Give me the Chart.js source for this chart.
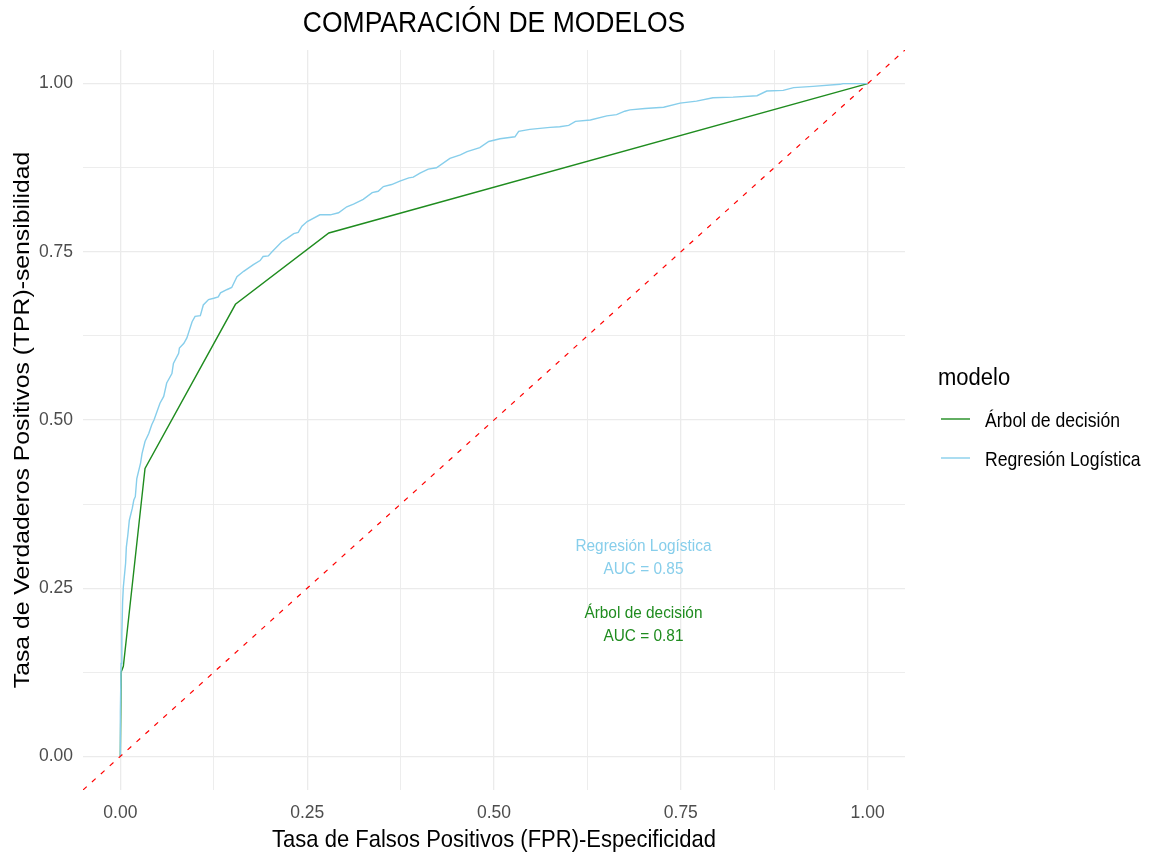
<!DOCTYPE html>
<html>
<head>
<meta charset="utf-8">
<title>Comparación de modelos</title>
<script src="https://cdn.jsdelivr.net/npm/chart.js@4.4.1/dist/chart.umd.min.js"></script>
<style>
  html, body { margin: 0; padding: 0; background: #ffffff; }
  canvas { display: block; }
</style>
</head>
<body>
<canvas id="roc" width="1152" height="852"></canvas>
<script>
// ROC curve of the decision tree (few thresholds -> piecewise line)
const arbolFPR = [0, 0.001, 0.004, 0.033, 0.154, 0.279, 1];
const arbolTPR = [0, 0.125, 0.134, 0.428, 0.672, 0.778, 1];

// ROC curve of the logistic regression
const logitFPR = [0, 0, 0.001, 0.002, 0.003, 0.004, 0.007, 0.008, 0.010, 0.012,
  0.016, 0.018, 0.020, 0.022, 0.027, 0.029, 0.033, 0.038, 0.042, 0.045,
  0.053, 0.058, 0.062, 0.069, 0.071, 0.078, 0.079, 0.085, 0.089, 0.096,
  0.100, 0.107, 0.111, 0.118, 0.125, 0.131, 0.134, 0.143, 0.149, 0.156,
  0.165, 0.178, 0.187, 0.191, 0.198, 0.203, 0.216, 0.223, 0.232, 0.238,
  0.243, 0.250, 0.267, 0.281, 0.292, 0.303, 0.312, 0.325, 0.337, 0.345,
  0.352, 0.363, 0.374, 0.386, 0.392, 0.401, 0.412, 0.423, 0.441, 0.455,
  0.464, 0.481, 0.493, 0.508, 0.528, 0.533, 0.548, 0.575, 0.588, 0.600,
  0.609, 0.629, 0.651, 0.664, 0.675, 0.682, 0.702, 0.727, 0.749, 0.771,
  0.793, 0.820, 0.852, 0.865, 0.887, 0.901, 0.927, 0.963, 0.967, 1];
const logitTPR = [0, 0.066, 0.138, 0.183, 0.230, 0.252, 0.287, 0.311, 0.329, 0.351,
  0.369, 0.381, 0.386, 0.413, 0.436, 0.450, 0.468, 0.480, 0.493, 0.500,
  0.525, 0.535, 0.555, 0.569, 0.584, 0.599, 0.607, 0.614, 0.622, 0.646,
  0.654, 0.655, 0.671, 0.679, 0.681, 0.683, 0.689, 0.694, 0.697, 0.713,
  0.721, 0.731, 0.737, 0.743, 0.744, 0.750, 0.765, 0.770, 0.777, 0.779,
  0.788, 0.795, 0.805, 0.805, 0.808, 0.817, 0.821, 0.828, 0.838, 0.840,
  0.847, 0.850, 0.855, 0.860, 0.861, 0.867, 0.873, 0.875, 0.889, 0.894,
  0.899, 0.905, 0.914, 0.918, 0.921, 0.929, 0.932, 0.935, 0.936, 0.938,
  0.944, 0.946, 0.952, 0.954, 0.959, 0.961, 0.963, 0.965, 0.971, 0.974,
  0.979, 0.980, 0.982, 0.989, 0.990, 0.994, 0.996, 0.999, 1.000, 1];

// y = x reference line (chance level), spanning the full panel
const chanceLine = [-0.05, 1.05];

const seriesNames = ['Árbol de decisión', 'Regresión Logística'];
const seriesColors = ['#1f8c1f', '#87ceeb'];
const aucValues = [0.81, 0.85];
const aucAnchorX = [0.70, 0.70];
const aucAnchorY = [0.20, 0.30];

const majorTicks = [0, 0.25, 0.5, 0.75, 1];
const gridTicks = [0, 0.125, 0.25, 0.375, 0.5, 0.625, 0.75, 0.875, 1];
const axisRange = [-0.05, 1.05];

const FONT = "'Liberation Sans', Arial, Helvetica, sans-serif";
const STRETCH = 1.1;

const toPoints = (xs, ys) => xs.map((x, i) => ({ x: x, y: ys[i] }));
const isMajor = v => majorTicks.some(m => Math.abs(m - v) < 1e-9);

function drawText(ctx, text, x, y, o) {
  const k = o.stretch || STRETCH;
  ctx.save();
  ctx.translate(x, y);
  if (o.rotate) {
    ctx.rotate(o.rotate);
    ctx.scale(k, 1);
  } else {
    ctx.scale(1, k);
  }
  ctx.font = o.font;
  ctx.fillStyle = o.color;
  ctx.textAlign = o.align || 'left';
  ctx.textBaseline = 'alphabetic';
  ctx.fillText(text, 0, 0);
  ctx.restore();
}

const decorations = {
  id: 'decorations',
  afterDraw(chart) {
    const ctx = chart.ctx;
    const area = chart.chartArea;
    const xs = chart.scales.x, ys = chart.scales.y;
    const cx = (area.left + area.right) / 2;
    const cy = (area.top + area.bottom) / 2;

    // title
    drawText(ctx, 'COMPARACIÓN DE MODELOS', cx, 32,
      { font: `26.5px ${FONT}`, color: '#000000', align: 'center' });

    // axis titles
    drawText(ctx, 'Tasa de Falsos Positivos (FPR)-Especificidad', cx, 847,
      { font: `22px ${FONT}`, color: '#000000', align: 'center' });
    drawText(ctx, 'Tasa de Verdaderos Positivos (TPR)-sensibilidad', 29, cy,
      { font: `22px ${FONT}`, color: '#000000', align: 'center',
        rotate: -Math.PI / 2, stretch: 1.125 });

    // legend
    drawText(ctx, 'modelo', 938, 385,
      { font: `22px ${FONT}`, color: '#000000' });
    const keyY = [419, 458];
    const labelY = [427.3, 466.3];
    seriesNames.forEach((name, i) => {
      ctx.save();
      ctx.strokeStyle = seriesColors[i];
      ctx.lineWidth = 1.4;
      ctx.beginPath();
      ctx.moveTo(941, keyY[i]);
      ctx.lineTo(970, keyY[i]);
      ctx.stroke();
      ctx.restore();
      drawText(ctx, name, 985, labelY[i],
        { font: `17.6px ${FONT}`, color: '#000000' });
    });

    // AUC annotations
    seriesNames.forEach((name, i) => {
      const px = xs.getPixelForValue(aucAnchorX[i]);
      const py = ys.getPixelForValue(aucAnchorY[i]);
      const f = `15.4px ${FONT}`;
      drawText(ctx, name, px, py - 4, { font: f, color: seriesColors[i], align: 'center' });
      drawText(ctx, 'AUC = ' + aucValues[i].toFixed(2), px, py + 19,
        { font: f, color: seriesColors[i], align: 'center' });
    });
  }
};

function axisOptions() {
  return {
    type: 'linear',
    min: axisRange[0],
    max: axisRange[1],
    afterBuildTicks: scale => { scale.ticks = gridTicks.map(v => ({ value: v })); },
    border: { display: false },
    grid: {
      drawTicks: false,
      color: '#ebebeb',
      lineWidth: c => (c.tick && isMajor(c.tick.value)) ? 1.3 : 0.9
    },
    ticks: {
      autoSkip: false,
      color: '#4d4d4d',
      font: { size: 17.5, family: FONT },
      callback: v => isMajor(v) ? Number(v).toFixed(2) : ''
    }
  };
}

const xAxis = axisOptions();
xAxis.ticks.padding = 13;
xAxis.ticks.maxRotation = 0;
xAxis.afterFit = s => { s.height = 62; };

const yAxis = axisOptions();
yAxis.ticks.padding = 10;
yAxis.afterFit = s => { s.width = 83; };

new Chart(document.getElementById('roc'), {
  type: 'scatter',
  data: {
    datasets: [
      {
        label: 'y = x',
        data: toPoints(chanceLine, chanceLine),
        showLine: true,
        borderColor: '#ff0000',
        borderWidth: 1.2,
        borderDash: [5, 7],
        pointRadius: 0,
        order: 0
      },
      {
        label: seriesNames[1],
        data: toPoints(logitFPR, logitTPR),
        showLine: true,
        borderColor: seriesColors[1],
        borderWidth: 1.4,
        pointRadius: 0,
        tension: 0,
        order: 1
      },
      {
        label: seriesNames[0],
        data: toPoints(arbolFPR, arbolTPR),
        showLine: true,
        borderColor: seriesColors[0],
        borderWidth: 1.4,
        pointRadius: 0,
        tension: 0,
        order: 2
      }
    ]
  },
  options: {
    responsive: false,
    devicePixelRatio: 1,
    animation: false,
    layout: { padding: { top: 50, right: 247, left: 0, bottom: 0 } },
    plugins: {
      legend: { display: false },
      title: { display: false },
      tooltip: { enabled: false }
    },
    scales: { x: xAxis, y: yAxis }
  },
  plugins: [decorations]
});
</script>
</body>
</html>
